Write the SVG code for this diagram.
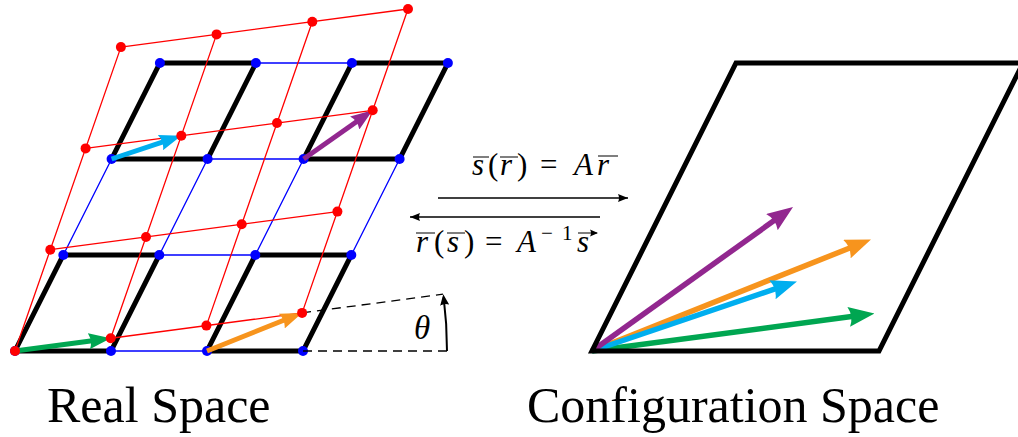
<svg xmlns="http://www.w3.org/2000/svg" width="1018" height="437" viewBox="0 0 1018 437">
<defs>
<marker id="hg" markerUnits="userSpaceOnUse" viewBox="0 -8 22 16" markerWidth="22" markerHeight="16" refX="13" refY="0" orient="auto"><path d="M22,0 L0,-8 Q4,0 0,8 Z" fill="#00a651"/></marker>
<marker id="hc" markerUnits="userSpaceOnUse" viewBox="0 -8 22 16" markerWidth="22" markerHeight="16" refX="13" refY="0" orient="auto"><path d="M22,0 L0,-8 Q4,0 0,8 Z" fill="#00aeef"/></marker>
<marker id="hp" markerUnits="userSpaceOnUse" viewBox="0 -8 22 16" markerWidth="22" markerHeight="16" refX="13" refY="0" orient="auto"><path d="M22,0 L0,-8 Q4,0 0,8 Z" fill="#92278f"/></marker>
<marker id="ho" markerUnits="userSpaceOnUse" viewBox="0 -8 22 16" markerWidth="22" markerHeight="16" refX="13" refY="0" orient="auto"><path d="M22,0 L0,-8 Q4,0 0,8 Z" fill="#f7941d"/></marker>
<marker id="Hg" markerUnits="userSpaceOnUse" viewBox="0 -10 26 20" markerWidth="26" markerHeight="20" refX="16" refY="0" orient="auto"><path d="M26,0 L0,-10 Q5,0 0,10 Z" fill="#00a651"/></marker>
<marker id="Hc" markerUnits="userSpaceOnUse" viewBox="0 -10 26 20" markerWidth="26" markerHeight="20" refX="16" refY="0" orient="auto"><path d="M26,0 L0,-10 Q5,0 0,10 Z" fill="#00aeef"/></marker>
<marker id="Hp" markerUnits="userSpaceOnUse" viewBox="0 -10 26 20" markerWidth="26" markerHeight="20" refX="16" refY="0" orient="auto"><path d="M26,0 L0,-10 Q5,0 0,10 Z" fill="#92278f"/></marker>
<marker id="Ho" markerUnits="userSpaceOnUse" viewBox="0 -10 26 20" markerWidth="26" markerHeight="20" refX="16" refY="0" orient="auto"><path d="M26,0 L0,-10 Q5,0 0,10 Z" fill="#f7941d"/></marker>
<marker id="hk" markerUnits="userSpaceOnUse" viewBox="0 -4.5 10 9" markerWidth="10" markerHeight="9" refX="10" refY="0" orient="auto"><path d="M10,0 L0,-4 Q2,0 0,4 Z" fill="#000"/></marker>
<marker id="ht" markerUnits="userSpaceOnUse" viewBox="0 -5 11 10" markerWidth="11" markerHeight="10" refX="8" refY="0" orient="auto"><path d="M11,0 L0,-4.5 Q2,0 0,4.5 Z" fill="#000"/></marker>
<marker id="ha" markerUnits="userSpaceOnUse" viewBox="0 -4 8 8" markerWidth="8" markerHeight="8" refX="7" refY="0" orient="auto"><path d="M8,0 L0,-3.5 Q2,0 0,3.5 Z" fill="#000"/></marker>
</defs>

<g id="blue-lattice" stroke="#0000ff" stroke-width="1.3" fill="none">
<path d="M15,351 L303,351 M63.3,255 L351.3,255 M111.6,159 L399.6,159 M159.9,63 L447.9,63 M15,351 L159.9,63 M111,351 L255.9,63 M207,351 L351.9,63 M303,351 L447.9,63"/>
</g>
<g id="unit-cells" stroke="#000" stroke-width="5" fill="none">
<path d="M15,351 L111,351 L159.3,255 L63.3,255 Z"/>
<path d="M207,351 L303,351 L351.3,255 L255.3,255 Z"/>
<path d="M111.6,159 L207.6,159 L255.9,63 L159.9,63 Z"/>
<path d="M303.6,159 L399.6,159 L447.9,63 L351.9,63 Z"/>
</g>
<g id="red-lattice" stroke="#ff0000" stroke-width="1.3" fill="none">
<path d="M15,351 L302.1,312.9 M50.3,249.7 L337.4,211.6 M85.6,148.4 L372.7,110.3 M120.9,47.1 L408,9 M15,351 L120.9,47.1 M110.7,338.3 L216.6,34.4 M206.4,325.6 L312.3,21.7 M302.1,312.9 L408,9"/>
</g>
<g id="blue-points" fill="#0000ff">
<circle cx="15" cy="351" r="5"/><circle cx="111" cy="351" r="5"/><circle cx="207" cy="351" r="5"/><circle cx="303" cy="351" r="5"/>
<circle cx="63.3" cy="255" r="5"/><circle cx="159.3" cy="255" r="5"/><circle cx="255.3" cy="255" r="5"/><circle cx="351.3" cy="255" r="5"/>
<circle cx="111.6" cy="159" r="5"/><circle cx="207.6" cy="159" r="5"/><circle cx="303.6" cy="159" r="5"/><circle cx="399.6" cy="159" r="5"/>
<circle cx="159.9" cy="63" r="5"/><circle cx="255.9" cy="63" r="5"/><circle cx="351.9" cy="63" r="5"/><circle cx="447.9" cy="63" r="5"/>
</g>

<g id="connectors" fill="none">
<path stroke="#00a651" stroke-width="5" marker-end="url(#hg)" d="M15,351 L101.8,339.5"/>
<path stroke="#00aeef" stroke-width="5" marker-end="url(#hc)" d="M111.6,159 L172.8,138.55"/>
<path stroke="#92278f" stroke-width="5" marker-end="url(#hp)" d="M303.6,159 L365.34,115.48"/>
<path stroke="#f7941d" stroke-width="5" marker-end="url(#ho)" d="M207,351 L293.75,316.25"/>
<path stroke="#000" stroke-width="1.3" stroke-dasharray="9,6" d="M302.1,312.9 L443,294.2 M303,351 L447,351"/>
<path stroke="#000" stroke-width="2" marker-end="url(#ht)" d="M447,351 A432,432 0 0,0 443.63,297.15"/>
<path stroke="#000" stroke-width="1.3" marker-end="url(#hk)" d="M438,198 L628,198"/>
<path stroke="#000" stroke-width="1.3" marker-end="url(#hk)" d="M600,217 L410,217"/>
<path stroke="#00a651" stroke-width="5.5" marker-end="url(#Hg)" d="M592,351 L864.6,314.8"/>
<path stroke="#f7941d" stroke-width="5.5" marker-end="url(#Ho)" d="M592,351 L861.7,243.2"/>
<path stroke="#00aeef" stroke-width="5.5" marker-end="url(#Hc)" d="M592,351 L787.5,284.7"/>
<path stroke="#92278f" stroke-width="5.5" marker-end="url(#Hp)" d="M592,351 L784.9,212.8"/>
<path stroke="#000" stroke-width="1.1" marker-end="url(#ha)" d="M473,157 L489,157 M500,157 L518,157 M598,156 L618,156 M416,233 L435,233 M447,233 L465,233 M578,233 L597,233"/>
</g>

<g id="red-points" fill="#ff0000">
<circle cx="15" cy="351" r="5"/><circle cx="110.7" cy="338.3" r="5"/><circle cx="206.4" cy="325.6" r="5"/><circle cx="302.1" cy="312.9" r="5"/>
<circle cx="50.3" cy="249.7" r="5"/><circle cx="146" cy="237" r="5"/><circle cx="241.7" cy="224.3" r="5"/><circle cx="337.4" cy="211.6" r="5"/>
<circle cx="85.6" cy="148.4" r="5"/><circle cx="181.3" cy="135.7" r="5"/><circle cx="277" cy="123" r="5"/><circle cx="372.7" cy="110.3" r="5"/>
<circle cx="120.9" cy="47.1" r="5"/><circle cx="216.6" cy="34.4" r="5"/><circle cx="312.3" cy="21.7" r="5"/><circle cx="408" cy="9" r="5"/>
</g>

<g id="config-cell">
<path stroke="#000" stroke-width="5" fill="none" d="M592,351 L879,351 L1023,63 L736,63 Z"/>
</g>

<text x="414" y="339" font-family="Liberation Serif, serif" font-style="italic" font-size="33">θ</text>
<text y="175" font-family="Liberation Serif, serif" font-size="31"><tspan x="472" font-style="italic">s</tspan><tspan x="488">(</tspan><tspan x="500" font-style="italic">r</tspan><tspan x="517">)</tspan><tspan x="540">=</tspan><tspan x="574" font-style="italic">A</tspan><tspan x="597" font-style="italic">r</tspan></text>
<text y="252" font-family="Liberation Serif, serif" font-size="31"><tspan x="416" font-style="italic">r</tspan><tspan x="434">(</tspan><tspan x="447" font-style="italic">s</tspan><tspan x="464">)</tspan><tspan x="485">=</tspan><tspan x="517" font-style="italic">A</tspan><tspan x="541" y="240" font-size="21">−</tspan><tspan x="562" y="240" font-size="21">1</tspan><tspan x="577" y="252" font-style="italic">s</tspan></text>
<text x="47" y="422" font-family="Liberation Serif, serif" font-size="50">Real Space</text>
<text x="527" y="422" font-family="Liberation Serif, serif" font-size="50">Configuration Space</text>
</svg>
